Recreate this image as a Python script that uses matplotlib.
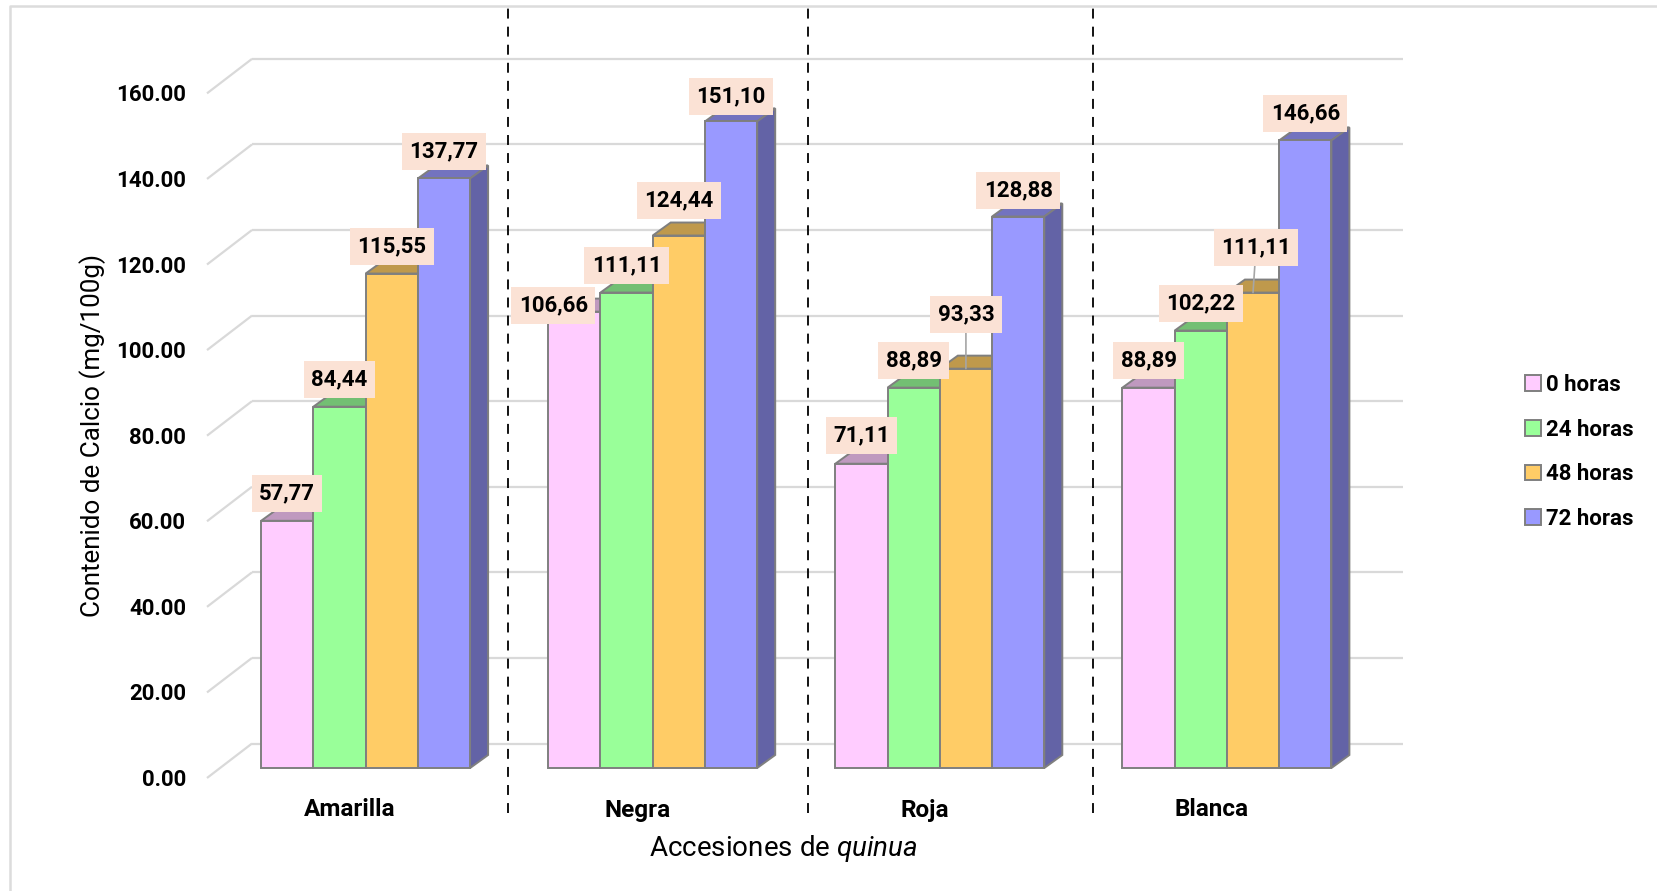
import numpy as np
import matplotlib
matplotlib.use('Agg')
import matplotlib.pyplot as plt
from matplotlib.patches import Polygon, Rectangle, Patch
from matplotlib.lines import Line2D

plt.rcParams['font.family'] = ['Roboto', 'DejaVu Sans']
plt.rcParams['mathtext.fontset'] = 'custom'
plt.rcParams['mathtext.it'] = 'Roboto:italic'
plt.rcParams['mathtext.rm'] = 'Roboto'

# ---------------- data ----------------
categories = ['Amarilla', 'Negra', 'Roja', 'Blanca']
series_names = ['0 horas', '24 horas', '48 horas', '72 horas']
horas_0 = [57.77, 106.66, 71.11, 88.89]
horas_24 = [84.44, 111.11, 88.89, 102.22]
horas_48 = [115.55, 124.44, 93.33, 111.11]
horas_72 = [137.77, 151.10, 128.88, 146.66]
y_ticks = [0, 20, 40, 60, 80, 100, 120, 140, 160]

series_values = [horas_0, horas_24, horas_48, horas_72]

# ---------------- styles ----------------
front_colors = ['#FFCCFF', '#99FF99', '#FFCC66', '#9999FF']
top_colors = ['#BF99BF', '#73BF73', '#BF994C', '#7373BF']
side_colors = ['#A685A6', '#63A663', '#A68542', '#6363A6']
edge_color = '#7F7F7F'
grid_color = '#D9D9D9'
label_bg = '#FBE2D5'

# label offsets in pixels from the bar's front-top centre, [group][series]
label_dx = [[0, 0, 0, 0], [-21, 0, 0, 0], [0, 0, 0, 0], [0, 0, 3, 0]]
label_dy = [[27, 27, 27, 27], [6, 27, 35, 25], [28, 27, 54, 26], [27, 27, 45, 27]]
label_leader = [[False] * 4, [False] * 4, [False, False, True, False], [False, False, True, False]]
separator_x = [0.497, 1.542, 2.533]

# ---------------- figure / axes ----------------
W, H = 1657, 891
fig = plt.figure(figsize=(W / 100, H / 100), dpi=100)
fig.patch.set_facecolor('white')

group_px = 287.1          # pixels between group centres
ax_left_px, ax_right_px = 200, 1410
base_px, top_px = 768, 83.36
x0_px = 365.6             # pixel of first group centre
ax = fig.add_axes([ax_left_px / W, (H - base_px) / H,
                   (ax_right_px - ax_left_px) / W, (base_px - top_px) / H])
ax.set_xlim((ax_left_px - x0_px) / group_px, (ax_right_px - x0_px) / group_px)
ax.set_ylim(0, 160)
ax.axis('off')

PX = 1 / group_px                  # data-x per pixel
PY = 160 / (base_px - top_px)      # data-y per pixel

def xd(px):
    return (px - x0_px) * PX

# ---------------- walls / gridlines ----------------
floor_left, back_left, back_right = xd(207), xd(252), xd(1403)
back_dy, front_dy = 24.5 * PY, -10 * PY
for v in y_ticks:
    ax.plot([back_left, back_right], [v + back_dy, v + back_dy], color=grid_color,
            lw=1.6, zorder=1, clip_on=False, solid_capstyle='butt')
    ax.plot([floor_left, back_left], [v + front_dy, v + back_dy], color=grid_color,
            lw=1.6, zorder=1, clip_on=False, solid_capstyle='butt')
    ax.annotate(f'{v:.2f}', xy=(floor_left, v + front_dy), xytext=(-21, -2),
                textcoords='offset pixels', ha='right', va='center',
                fontsize=16, fontweight='bold', color='#000000', annotation_clip=False)

# ---------------- bars (pseudo 3D) ----------------
BW = 52.25 * PX
DX, DY = 18 * PX, 13 * PY
n = len(series_values)
for g in range(len(categories)):
    for j in range(n):
        v = series_values[j][g]
        x0 = g + (j - n / 2) * BW
        x1 = x0 + BW
        top = Polygon([(x0, v), (x1, v), (x1 + DX, v + DY), (x0 + DX, v + DY)],
                      closed=True, fc=top_colors[j], ec=edge_color, lw=1.4, zorder=3,
                      joinstyle='miter', clip_on=False)
        side = Polygon([(x1, 0), (x1 + DX, DY), (x1 + DX, v + DY), (x1, v)],
                       closed=True, fc=side_colors[j], ec=edge_color, lw=1.4, zorder=3,
                       joinstyle='miter', clip_on=False)
        front = Rectangle((x0, 0), BW, v, fc=front_colors[j], ec=edge_color, lw=1.4,
                          zorder=3, joinstyle='miter', clip_on=False)
        ax.add_patch(top)
        ax.add_patch(side)
        ax.add_patch(front)

# ---------------- data labels ----------------
for g in range(len(categories)):
    for j in range(n):
        v = series_values[j][g]
        xc = g + (j - n / 2 + 0.5) * BW
        txt = f'{v:.2f}'.replace('.', ',')
        kw = {}
        if label_leader[g][j]:
            kw['arrowprops'] = dict(arrowstyle='-', color='#A6A6A6', lw=1.2,
                                    shrinkA=0, shrinkB=0)
        ax.annotate(txt, xy=(xc, v), xytext=(label_dx[g][j], label_dy[g][j]),
                    textcoords='offset pixels', ha='center', va='center',
                    fontsize=16, fontweight='bold', color='#000000', zorder=6,
                    bbox=dict(boxstyle='square,pad=0.33', fc=label_bg, ec='none'),
                    annotation_clip=False, **kw)

# ---------------- category labels ----------------
for g, name in enumerate(categories):
    ax.annotate(name, xy=(g, 0), xytext=(-15.5, -42), textcoords='offset pixels',
                ha='center', va='center', fontsize=17.5, fontweight='bold',
                annotation_clip=False)

ax.annotate('Accesiones de $\\mathit{quinua}$', xy=((len(categories) - 1) / 2, 0),
            xytext=(-13, -81), textcoords='offset pixels', ha='center', va='center',
            fontsize=20, annotation_clip=False)

fig.text(93 / W, 1 - 435 / H, 'Contenido de Calcio (mg/100g)', rotation=90,
         ha='center', va='center', fontsize=18.7)

# ---------------- separators ----------------
for sx in separator_x:
    ax.plot([sx, sx], [(base_px - 813) * PY, (base_px - 7) * PY], color='black',
            lw=1.3, linestyle=(0, (5.5, 4.5)), zorder=2, clip_on=False)

# ---------------- legend ----------------
handles = [Patch(fc=front_colors[j], ec=edge_color, lw=1.4) for j in range(n)]
leg = fig.legend(handles, series_names, loc='center left',
                 bbox_to_anchor=(1525 / W, 1 - 452 / H), frameon=False,
                 prop={'size': 16, 'weight': 'bold'}, handlelength=0.7,
                 handleheight=0.7, handletextpad=0.25, labelspacing=1.02,
                 borderpad=0, borderaxespad=0)

# ---------------- chart border ----------------
fig.add_artist(Line2D([10 / W, 10 / W, 1], [0, 1 - 6 / H, 1 - 6 / H],
                      transform=fig.transFigure, color='#DCDCDC', lw=1.8))

fig.savefig('out.png', dpi=100, facecolor='white')
